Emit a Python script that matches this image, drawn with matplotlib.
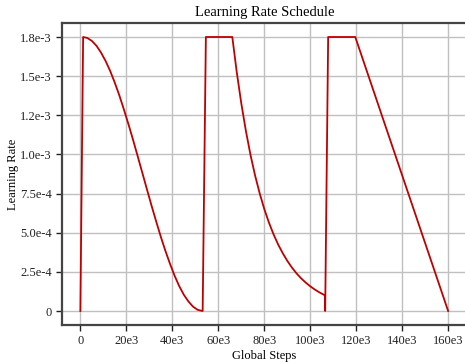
import numpy as np
import matplotlib.pyplot as plt

plt.rcParams['font.family'] = ['Liberation Serif', 'DejaVu Serif']

# learning rate per global step (steps in thousands, lr in 1e-3)
steps_k = [0, 1.2, 3, 5, 7, 9, 11, 13, 15, 17, 19, 21, 23, 25, 27, 29, 31, 33,
           35, 37, 39, 41, 43, 45, 47, 49, 51, 53.2,
           54.6, 66.1, 68, 70, 72, 74, 76, 78, 80, 82, 84, 86, 88, 90, 92, 94,
           96, 98, 100, 102, 104, 106.4,
           106.5, 107.8, 119.6, 160]
lr_m = [0, 1.75, 1.744, 1.725, 1.694, 1.650, 1.596, 1.532, 1.457, 1.375, 1.284,
        1.189, 1.089, 0.985, 0.880, 0.775, 0.671, 0.571, 0.474, 0.384, 0.301,
        0.225, 0.159, 0.104, 0.061, 0.028, 0.0076, 0.0,
        1.75, 1.75, 1.529, 1.327, 1.151, 0.998, 0.866, 0.752, 0.652, 0.566,
        0.491, 0.426, 0.370, 0.321, 0.278, 0.241, 0.209, 0.182, 0.158, 0.137,
        0.119, 0.100,
        0.0, 1.75, 1.75, 0.0]

xticks = [0, 20e3, 40e3, 60e3, 80e3, 100e3, 120e3, 140e3, 160e3]
xtick_labels = ['0', '20e3', '40e3', '60e3', '80e3', '100e3', '120e3', '140e3', '160e3']
yticks = [0, 2.5e-4, 5.0e-4, 7.5e-4, 1.0e-3, 1.25e-3, 1.5e-3, 1.75e-3]
ytick_labels = ['0', '2.5e-4', '5.0e-4', '7.5e-4', '1.0e-3', '1.2e-3', '1.5e-3', '1.8e-3']

steps = np.array(steps_k) * 1e3
lr = np.array(lr_m) * 1e-3

fig = plt.figure(figsize=(4.65, 3.63), dpi=100)
ax = fig.add_axes([0.1333, 0.1055, 0.870, 0.8303])

ax.plot(steps, lr, color='#c00000', linewidth=1.3, zorder=3)

ax.set_xlim(-8e3, 168e3)
ax.set_ylim(-0.0875e-3, 1.8375e-3)
ax.set_xticks(xticks)
ax.set_xticklabels(xtick_labels)
ax.set_yticks(yticks)
ax.set_yticklabels(ytick_labels)

ax.grid(True, color='#c0c0c0', linewidth=1.0)
ax.set_axisbelow(True)
for s in ax.spines.values():
    s.set_color('#444444')
    s.set_linewidth(1.6)
ax.tick_params(axis='both', colors='#222222', labelsize=9, length=4, width=1.0)

ax.set_title('Learning Rate Schedule', fontsize=10.5, pad=5)
ax.set_xlabel('Global Steps', fontsize=9, labelpad=2)
ax.set_ylabel('Learning Rate', fontsize=9)
ax.yaxis.set_label_coords(-0.107, 0.5)

plt.savefig('out.png', dpi=100)
